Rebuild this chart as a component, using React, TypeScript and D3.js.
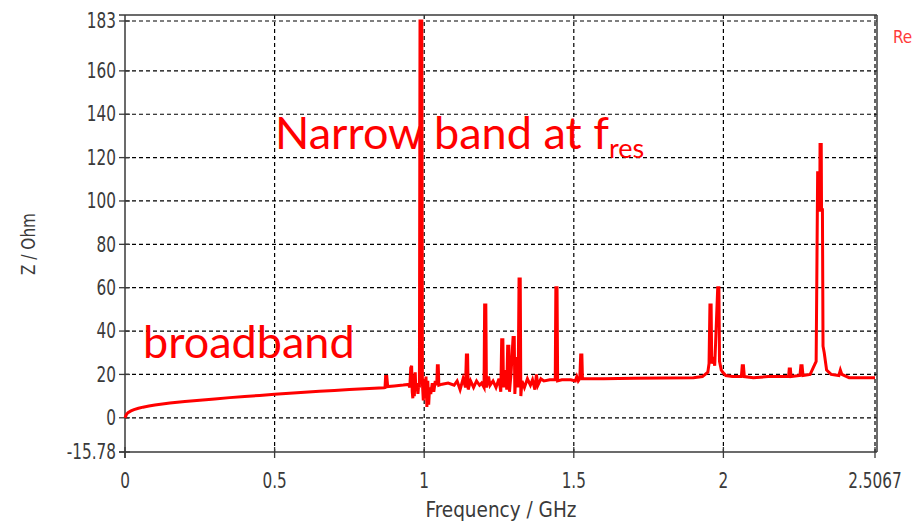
import React from "react";
import * as d3 from "d3";

// Impedance spectrum: real part of Z versus frequency
const freqGHz: number[] = [
  0, 0.005, 0.01, 0.02, 0.03, 0.045, 0.06, 0.08, 0.1, 0.15, 0.2, 0.25, 0.3, 0.35, 0.4, 0.45, 0.5,
  0.55, 0.6, 0.65, 0.7, 0.75, 0.8, 0.866, 0.869, 0.871, 0.875, 0.878, 0.9, 0.93, 0.948,
  0.952, 0.955, 0.958, 0.96, 0.962, 0.965, 0.967, 0.97, 0.972, 0.975, 0.979, 0.982, 0.984,
  0.986, 0.992, 0.994, 0.997, 1.0, 1.003, 1.006, 1.009, 1.012, 1.015, 1.018, 1.022, 1.027,
  1.032, 1.037, 1.042, 1.044, 1.047, 1.049, 1.06, 1.08, 1.1, 1.11, 1.12, 1.13, 1.138, 1.141,
  1.145, 1.147, 1.155, 1.165, 1.175, 1.185, 1.192, 1.2, 1.202, 1.206, 1.208, 1.215, 1.22, 1.23,
  1.24, 1.25, 1.256, 1.259, 1.263, 1.265, 1.27, 1.276, 1.279, 1.283, 1.285, 1.29, 1.297,
  1.301, 1.303, 1.307, 1.31, 1.314, 1.317, 1.321, 1.323, 1.327, 1.335, 1.345, 1.355, 1.362,
  1.37, 1.375, 1.38, 1.39, 1.4, 1.42, 1.438, 1.44, 1.444, 1.446, 1.46, 1.49, 1.505, 1.51,
  1.515, 1.52, 1.523, 1.527, 1.529, 1.55, 1.6, 1.7, 1.8, 1.9, 1.93, 1.948, 1.952, 1.955,
  1.959, 1.961, 1.967, 1.971, 1.981, 1.985, 1.987, 1.993, 1.998, 2.008, 2.03, 2.06, 2.063,
  2.067, 2.07, 2.1, 2.15, 2.2, 2.218, 2.22, 2.224, 2.226, 2.256, 2.259, 2.263, 2.266, 2.29,
  2.3, 2.31, 2.312, 2.315, 2.32, 2.322, 2.323, 2.327, 2.328, 2.331, 2.333, 2.337, 2.345,
  2.36, 2.386, 2.391, 2.396, 2.42, 2.5067,
];

const zOhm: number[] = [
  0, 1.6, 2.4, 3.2, 3.8, 4.4, 4.9, 5.4, 5.9, 6.8, 7.5, 8.1, 8.7, 9.3, 9.8, 10.3, 10.8,
  11.3, 11.8, 12.2, 12.6, 13.0, 13.4, 13.8, 13.9, 19, 19, 14.4, 14.7, 15.1, 15.4,
  14, 23, 24, 12, 9, 20, 10, 21, 13, 16, 11, 16, 14,
  183, 183, 16, 8, 18, 9, 19, 5, 17, 6, 14, 11, 16,
  12, 17, 15, 24, 24, 15, 15.5, 16, 15, 17, 13, 18, 14, 29,
  29, 13, 17, 14, 17, 15, 16, 14, 52, 52, 14, 19, 15, 17,
  14, 18, 12, 36, 36, 14, 22, 13, 33, 33, 12, 20, 37,
  37, 11, 22, 28, 14, 64, 64, 10, 17, 14, 18, 15, 17.5,
  13, 20, 15, 18, 17, 17.5, 17.5, 60, 60, 17, 17.5, 17.5, 17, 19,
  17, 18, 29, 29, 18, 18, 18, 18.2, 18.4, 18.5, 19, 21, 25, 52,
  52, 25, 28, 24, 60, 60, 26, 22, 21, 19.5, 19, 19, 24,
  24, 19, 18.5, 19, 19, 19, 22.5, 22.5, 19, 19.5, 24, 24, 19.5, 20,
  23, 26, 60, 113, 113, 95, 126, 126, 96, 96, 33, 30, 22,
  20, 19.5, 22, 20, 18.5, 18.5,
];

const xTicks: number[] = [0, 0.5, 1, 1.5, 2, 2.5067];
const xTickLabels: string[] = ["0", "0.5", "1", "1.5", "2", "2.5067"];
const yTicks: number[] = [-15.78, 0, 20, 40, 60, 80, 100, 120, 140, 160, 183];
const yTickLabels: string[] = ["-15.78", "0", "20", "40", "60", "80", "100", "120", "140", "160", "183"];

const W = 919;
const H = 525;
const left = 125;
const right = 875;
const top = 21;
const bottom = 452;
const frameTop = 15;
const frameRight = 877;

const axisFont = "'DejaVu Sans Condensed', 'DejaVu Sans', sans-serif";
const noteFont = "Lato, 'Open Sans', sans-serif";
const axisColor = "#3a3a3a";

export default function App() {
  const x = d3.scaleLinear().domain([0, 2.5067]).range([left, right]);
  const y = d3.scaleLinear().domain([-15.78, 183]).range([bottom, top]);

  const pts: [number, number][] = freqGHz.map((f, i) => [f, zOhm[i]]);
  const line = d3
    .line<[number, number]>()
    .x((d) => x(d[0]))
    .y((d) => y(d[1]));

  // tall, narrow tick lettering
  const tall = (cx: number, cy: number) =>
    `translate(${cx},${cy}) scale(1,1.2) translate(${-cx},${-cy})`;

  return (
    <svg
      width={W}
      height={H}
      viewBox={`0 0 ${W} ${H}`}
      style={{ position: "absolute", left: 0, top: 0, background: "#fff" }}
    >
      {/* dashed grid */}
      <g stroke="#000" strokeWidth={1.2} strokeDasharray="4,3">
        {yTicks.slice(1).map((t) => (
          <line key={"gy" + t} x1={left} x2={frameRight} y1={y(t)} y2={y(t)} />
        ))}
        {xTicks.slice(1).map((t) => (
          <line key={"gx" + t} x1={x(t)} x2={x(t)} y1={frameTop} y2={bottom} />
        ))}
      </g>

      {/* frame */}
      <g stroke={axisColor} strokeWidth={1.5} fill="none">
        <line x1={left} x2={left} y1={frameTop} y2={bottom + 6} />
        <line x1={left - 6} x2={frameRight} y1={bottom} y2={bottom} />
        <line x1={left - 6} x2={frameRight} y1={frameTop} y2={frameTop} />
        <line x1={frameRight} x2={frameRight} y1={frameTop} y2={bottom} />
      </g>

      {/* tick marks */}
      <g stroke={axisColor} strokeWidth={1.3}>
        {yTicks.map((t) => (
          <line key={"ty" + t} x1={left - 6} x2={left + 5} y1={y(t)} y2={y(t)} />
        ))}
        {xTicks.map((t) => (
          <line key={"tx" + t} x1={x(t)} x2={x(t)} y1={bottom - 5} y2={bottom + 6} />
        ))}
      </g>

      {/* tick labels */}
      <g fill={axisColor} fontFamily={axisFont} fontSize={17}>
        {yTicks.map((t, i) => (
          <text
            key={"ly" + t}
            x={left - 9}
            y={y(t) + 6}
            textAnchor="end"
            transform={tall(left - 9, y(t))}
          >
            {yTickLabels[i]}
          </text>
        ))}
        {xTicks.map((t, i) => (
          <text key={"lx" + t} x={x(t)} y={487} textAnchor="middle" transform={tall(x(t), 480)}>
            {xTickLabels[i]}
          </text>
        ))}
        <text x={(left + frameRight) / 2} y={517} textAnchor="middle" fontSize={20.5}>
          Frequency / GHz
        </text>
        <text transform={`translate(35, 244) rotate(-90) scale(1,1.15)`} textAnchor="middle">
          Z / Ohm
        </text>
      </g>

      {/* impedance curve */}
      <path d={line(pts) ?? ""} fill="none" stroke="#ff0000" strokeWidth={3} strokeLinejoin="miter" />

      {/* annotations */}
      <g fill="#ff0000" fontFamily={noteFont}>
        <text x={275} y={149} fontSize={45}>
          Narrow band at f
          <tspan fontSize={27} dy={9}>res</tspan>
        </text>
        <text x={143} y={358} fontSize={45}>
          broadband
        </text>
        <text x={893} y={43} fontSize={17} fill="#ff3b3b" fontFamily={axisFont}>
          Re
        </text>
      </g>
    </svg>
  );
}
